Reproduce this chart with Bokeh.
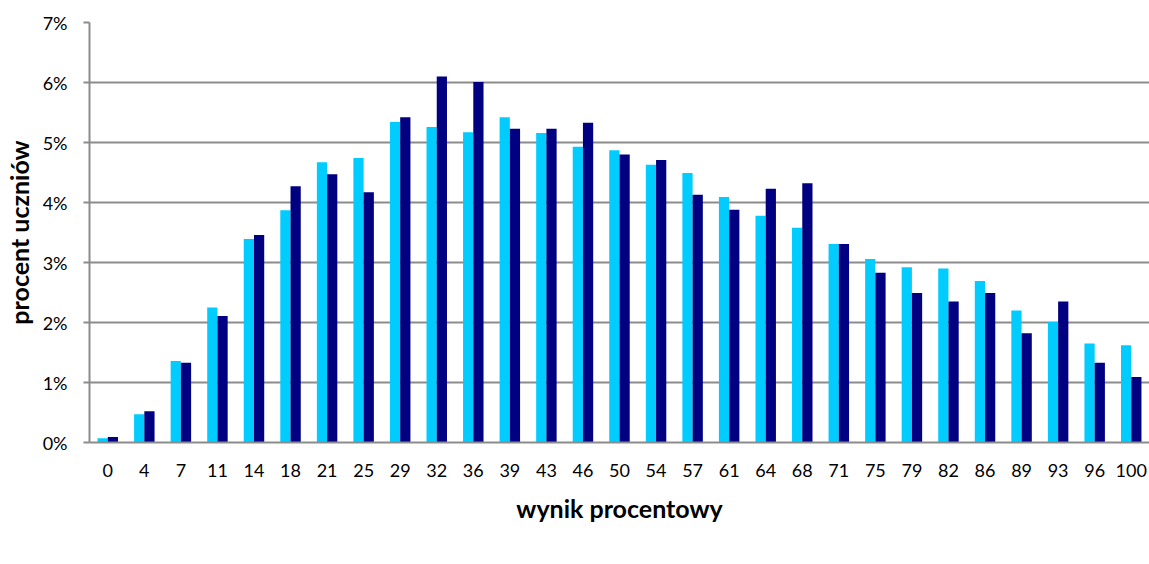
from bokeh.plotting import figure
from bokeh.models import FactorRange, Range1d, FixedTicker, PrintfTickFormatter, Legend, LegendItem, ColumnDataSource
from bokeh.transform import dodge
from bokeh.embed import file_html
from bokeh.resources import INLINE

categories = ["0", "4", "7", "11", "14", "18", "21", "25", "29", "32", "36", "39", "43", "46", "50",
              "54", "57", "61", "64", "68", "71", "75", "79", "82", "86", "89", "93", "96", "100"]
bez_dysleksji = [0.07, 0.47, 1.36, 2.25, 3.39, 3.87, 4.67, 4.74, 5.34, 5.26, 5.17, 5.42, 5.16, 4.93, 4.87,
                 4.63, 4.49, 4.09, 3.78, 3.58, 3.31, 3.06, 2.92, 2.90, 2.69, 2.20, 2.01, 1.65, 1.62]
z_dysleksja = [0.09, 0.52, 1.33, 2.11, 3.46, 4.27, 4.47, 4.17, 5.42, 6.10, 6.01, 5.23, 5.23, 5.33, 4.80,
               4.71, 4.13, 3.88, 4.23, 4.32, 3.31, 2.83, 2.49, 2.35, 2.49, 1.82, 2.35, 1.33, 1.09]
y_ticks = [0, 1, 2, 3, 4, 5, 6, 7]
labels = ["uczniowie bez dysleksji", "uczniowie z dysleksją"]
x_title = "wynik procentowy"
y_title = "procent uczniów"

FONT = "Lato"
GRAY = "#8c8c8c"

src = ColumnDataSource(dict(cat=categories, a=bez_dysleksji, b=z_dysleksja))

p = figure(x_range=FactorRange(*categories, range_padding=0), y_range=Range1d(0, 7),
           frame_width=1060, frame_height=420, output_backend="svg", toolbar_location=None,
           min_border_left=87, min_border_right=2, min_border_top=22, min_border_bottom=0)

r1 = p.vbar(x=dodge("cat", -0.14, range=p.x_range), top="a", width=0.28, source=src,
            fill_color="#00ccff", line_color=None)
r2 = p.vbar(x=dodge("cat", 0.14, range=p.x_range), top="b", width=0.28, source=src,
            fill_color="#000080", line_color=None)

p.outline_line_color = None
p.xgrid.grid_line_color = None
p.ygrid.grid_line_color = GRAY
p.ygrid.grid_line_width = 2

p.yaxis.ticker = FixedTicker(ticks=y_ticks)
p.yaxis.formatter = PrintfTickFormatter(format="%d%%")
p.yaxis.axis_line_color = GRAY
p.yaxis.axis_line_width = 2
p.yaxis.major_tick_line_color = GRAY
p.yaxis.major_tick_line_width = 2
p.yaxis.major_tick_out = 6
p.yaxis.major_tick_in = 0
p.yaxis.minor_tick_line_color = None
p.yaxis.major_label_standoff = 16
p.yaxis.axis_label = y_title
p.yaxis.axis_label_standoff = 6

p.xaxis.axis_line_color = GRAY
p.xaxis.axis_line_width = 2
p.xaxis.major_tick_line_color = None
p.xaxis.minor_tick_line_color = None
p.xaxis.major_tick_out = 0
p.xaxis.major_label_standoff = 21
p.xaxis.axis_label = x_title
p.xaxis.axis_label_standoff = 13

for ax in (p.xaxis[0], p.yaxis[0]):
    ax.major_label_text_font = FONT
    ax.major_label_text_font_size = "18px"
    ax.major_label_text_color = "#000000"
    ax.axis_label_text_font = FONT
    ax.axis_label_text_font_size = "25px"
    ax.axis_label_text_font_style = "bold"
    ax.axis_label_text_color = "#000000"

legend = Legend(items=[LegendItem(label=labels[0], renderers=[r1]),
                       LegendItem(label=labels[1], renderers=[r2])],
                orientation="horizontal", location="center",
                glyph_width=14, glyph_height=14, label_standoff=7, spacing=47,
                padding=0, margin=12, border_line_color=None, background_fill_alpha=0,
                label_text_font=FONT, label_text_font_size="24px", label_height=24)
p.add_layout(legend, "below")

open("out.html", "w").write(file_html(p, INLINE))
